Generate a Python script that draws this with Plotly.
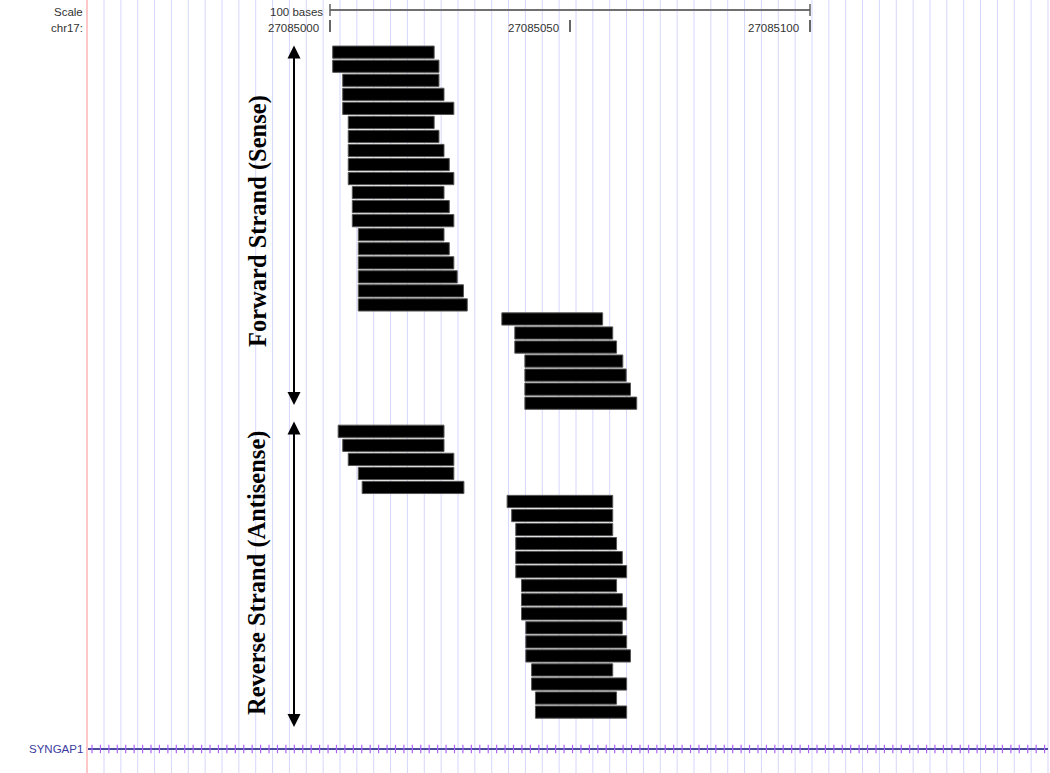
import plotly.graph_objects as go

# ---------------- data ----------------
WIN = 27085000                     # chr17 window reference position
scale_ticks = [27085000, 27085050, 27085100]
scale_label = "100 bases"
chrom_label = "chr17:"
gene_name = "SYNGAP1"

# forward-strand reads: row index, start / end offset (bases from WIN)
fwd_row = list(range(0, 26))
fwd_start = [0.56, 0.56, 2.65, 2.65, 2.65, 3.8, 3.8, 3.8, 3.8, 3.8,
             4.65, 4.65, 4.65, 5.9, 5.9, 5.9, 5.9, 5.9, 5.9,
             35.8, 38.5, 38.5, 40.6, 40.6, 40.6, 40.6]
fwd_end = [21.7, 22.7, 22.7, 23.75, 25.8, 21.7, 22.7, 23.75, 24.85, 25.8,
           23.75, 24.85, 25.8, 23.75, 24.85, 25.8, 26.5, 27.8, 28.6,
           56.8, 58.9, 59.7, 61.0, 61.7, 62.6, 63.9]

# reverse-strand reads
rev_row = list(range(27, 48))
rev_start = [1.7, 2.65, 3.8, 5.9, 6.7,
             36.9, 37.85, 38.7, 38.7, 38.7, 38.7, 39.9, 39.9, 39.9,
             40.8, 40.8, 40.8, 42.0, 42.0, 42.8, 42.8]
rev_end = [23.75, 23.75, 25.8, 25.8, 27.9,
           58.9, 58.9, 58.9, 59.7, 60.9, 61.8, 59.7, 60.9, 61.8,
           60.9, 61.8, 62.6, 58.9, 61.8, 59.7, 61.8]

strand_labels = ["Forward Strand (Sense)", "Reverse Strand (Antisense)"]

# ---------------- layout helpers (page pixel -> data) ----------------
W, H = 1050, 773
PX_PER_BASE = 4.8
X0_PX = 330.0
ROW0_PX = 52.2
ROW_PITCH = 14.04


def px_x(p):
    return WIN + (p - X0_PX) / PX_PER_BASE


def px_y(p):
    return (p - ROW0_PX) / ROW_PITCH


fig = go.Figure()

shapes = []
# light blue guide lines
k = 0
while True:
    p = 104.0 + 16.857 * k
    if p > 1049:
        break
    shapes.append(dict(type="line", xref="x", yref="paper",
                       x0=px_x(p), x1=px_x(p), y0=0, y1=1,
                       line=dict(color="#d6d6fb", width=1), layer="below"))
    k += 1
# red left boundary line
shapes.append(dict(type="line", xref="x", yref="paper",
                   x0=px_x(87), x1=px_x(87), y0=0, y1=1,
                   line=dict(color="#ffb4b4", width=1.5), layer="below"))

# scale bar
sb_y = px_y(10)
shapes.append(dict(type="line", xref="x", yref="y",
                   x0=scale_ticks[0], x1=scale_ticks[-1], y0=sb_y, y1=sb_y,
                   line=dict(color="#707070", width=2)))
for xv in (scale_ticks[0], scale_ticks[-1]):
    shapes.append(dict(type="line", xref="x", yref="y",
                       x0=xv, x1=xv, y0=px_y(4), y1=px_y(16),
                       line=dict(color="#606060", width=1.5)))
# position ticks
for xv in scale_ticks:
    shapes.append(dict(type="line", xref="x", yref="y",
                       x0=xv, x1=xv, y0=px_y(20), y1=px_y(32),
                       line=dict(color="#333333", width=1.5)))

# bars
fig.add_trace(go.Bar(
    y=fwd_row, base=[WIN + s for s in fwd_start],
    x=[e - s for s, e in zip(fwd_start, fwd_end)],
    orientation="h", width=0.87,
    marker=dict(color="black", line=dict(color="#555555", width=1)),
    name="forward", hoverinfo="skip"))
fig.add_trace(go.Bar(
    y=rev_row, base=[WIN + s for s in rev_start],
    x=[e - s for s, e in zip(rev_start, rev_end)],
    orientation="h", width=0.87,
    marker=dict(color="black", line=dict(color="#555555", width=1)),
    name="reverse", hoverinfo="skip"))

# gene track
gene_y = px_y(749)
gx = []
p = 92.0
while p < 1048:
    gx.append(px_x(p))
    p += 8.43
fig.add_trace(go.Scatter(
    x=[px_x(88), px_x(1048)], y=[gene_y, gene_y], mode="lines",
    line=dict(color="#4c4c9c", width=2), hoverinfo="skip"))
fig.add_trace(go.Scatter(
    x=gx, y=[gene_y] * len(gx), mode="markers",
    marker=dict(symbol="line-ns-open", size=6,
                line=dict(color="#4c4c9c", width=1.2)),
    hoverinfo="skip"))

small = dict(family="Liberation Sans, Arial", size=11.5, color="#333333")
ann = []
ann.append(dict(x=px_x(85), y=px_y(12), text="Scale", showarrow=False,
                xanchor="right", yanchor="middle", font=small))
ann.append(dict(x=px_x(85), y=px_y(28), text=chrom_label, showarrow=False,
                xanchor="right", yanchor="middle", font=small))
ann.append(dict(x=scale_ticks[0] - 1.0, y=px_y(12), text=scale_label,
                showarrow=False, xanchor="right", yanchor="middle", font=small))
for xv in scale_ticks:
    ann.append(dict(x=xv - 1.8, y=px_y(28), text=str(xv), showarrow=False,
                    xanchor="right", yanchor="middle", font=small))
ann.append(dict(x=px_x(85), y=gene_y, text=gene_name, showarrow=False,
                xanchor="right", yanchor="middle",
                font=dict(family="Liberation Sans, Arial", size=11.5,
                          color="#3c3ca0")))

serif1 = dict(family="Liberation Serif, Times New Roman", size=24.5, color="black")
ann.append(dict(x=px_x(258), y=px_y(221), text="<b>" + strand_labels[0] + "</b>",
                textangle=-90, showarrow=False, font=serif1,
                xanchor="center", yanchor="middle"))
ann.append(dict(x=px_x(257), y=px_y(573), text="<b>" + strand_labels[1] + "</b>",
                textangle=-90, showarrow=False, font=serif1,
                xanchor="center", yanchor="middle"))

# double-headed strand arrows
for (ytop, ybot) in ((44, 405), (420, 727)):
    ann.append(dict(x=px_x(294), y=px_y(ybot), ax=px_x(294), ay=px_y(ytop),
                    xref="x", yref="y", axref="x", ayref="y", text="",
                    showarrow=True, arrowside="end+start", arrowhead=2,
                    arrowsize=1.3, arrowwidth=2, arrowcolor="black",
                    standoff=0, startstandoff=0))

fig.update_layout(
    width=W, height=H,
    margin=dict(l=0, r=0, t=0, b=0),
    paper_bgcolor="white", plot_bgcolor="white",
    showlegend=False, barmode="overlay", hovermode=False,
    xaxis=dict(range=[px_x(0), px_x(W)], visible=False, fixedrange=True),
    yaxis=dict(range=[px_y(H), px_y(0)], visible=False, fixedrange=True),
    shapes=shapes, annotations=ann,
)

fig.write_html("out.html",
               config={"displayModeBar": False, "staticPlot": True},
               post_script="document.body.style.margin='0';"
                           "document.body.style.overflow='hidden';")
